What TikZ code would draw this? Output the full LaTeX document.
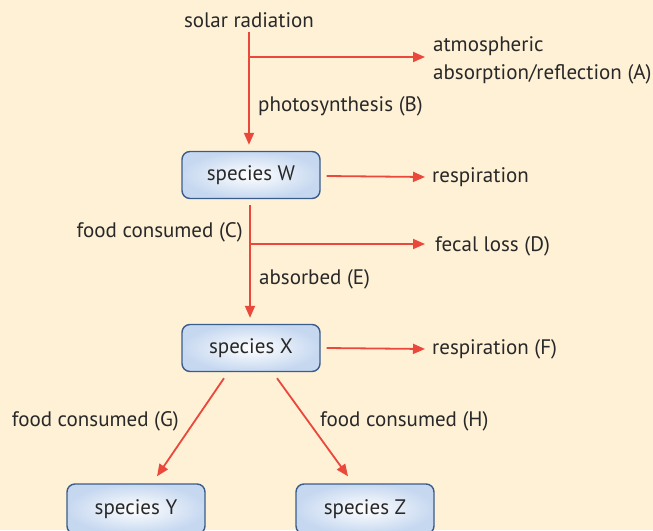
\documentclass[tikz,border=0pt]{standalone}
\usepackage{fontspec}
\setmainfont{PT Sans}
\usetikzlibrary{arrows.meta,calc}
\definecolor{bg}{RGB}{254,241,214}
\definecolor{flow}{RGB}{234,72,58}
\definecolor{boxline}{RGB}{58,92,138}
\definecolor{boxfill}{RGB}{198,216,240}
\definecolor{txt}{RGB}{40,40,40}
\tikzset{
  sbox/.style={draw=boxline, line width=1.4pt, rounded corners=8pt,
    inner color=white, outer color=boxfill,
    minimum width=138pt, minimum height=47pt, font=\fontsize{21}{23}\selectfont, text=txt},
  lbl/.style={font=\fontsize{21}{23}\selectfont, text=txt, inner sep=0pt},
  flowline/.style={draw=flow, line width=1.8pt, -{Triangle[length=12pt,width=10pt]}}
}
\begin{document}
\begin{tikzpicture}[x=1pt,y=-1pt]
\fill[bg] (0,0) rectangle (653,530);
\useasboundingbox (0,0) rectangle (653,530);
\begin{scope}
\clip (0,0) rectangle (653,530);
\node[lbl] (solar) at (249,20) {solar radiation};
\node[lbl, anchor=west] (atm1) at (433,46) {atmospheric};
\node[lbl, anchor=west] (atm2) at (433,74) {absorption/reflection (A)};
\node[lbl, anchor=west] (photo) at (258,106) {photosynthesis (B)};
\node[sbox] (W) at (251,175) {species W};
\node[lbl, anchor=west] (respW) at (432,177) {respiration};
\node[lbl, anchor=east] (foodC) at (243,232) {food consumed (C)};
\node[lbl, anchor=west] (fecal) at (435,246) {fecal loss (D)};
\node[lbl, anchor=west] (absE) at (259,279) {absorbed (E)};
\node[sbox] (X) at (251,348) {species X};
\node[lbl, anchor=west] (respF) at (432,349) {respiration (F)};
\node[lbl, anchor=east] (foodG) at (179,421) {food consumed (G)};
\node[lbl, anchor=west] (foodH) at (320,421) {food consumed (H)};
\node[sbox, minimum height=50pt] (Y) at (136,509) {species Y};
\node[sbox, minimum height=50pt] (Z) at (365,509) {species Z};

\coordinate (bA) at (249,57);
\coordinate (tA) at (425,57);
\coordinate (bD) at (250,244);
\coordinate (tD) at (425,244);

\draw[flowline] ($(solar.south)+(0,4)$) -- ($(W.north)+(-2,-6)$);
\draw[flowline] (bA) -- (tA);
\draw[flowline] ($(W.east)+(6,1)$) -- ($(respW.west)+(-7,0)$);
\draw[flowline] ($(W.south)+(-1,6)$) -- ($(X.north)+(-1,-6)$);
\draw[flowline] (bD) -- (tD);
\draw[flowline] ($(X.east)+(6,0)$) -- ($(respF.west)+(-7,0)$);
\draw[flowline] ($(X.south)+(-27,6)$) -- ($(Y.north)+(21,-7)$);
\draw[flowline] ($(X.south)+(26,6)$) -- ($(Z.north)+(-17,-7)$);
\end{scope}
\end{tikzpicture}
\end{document}
